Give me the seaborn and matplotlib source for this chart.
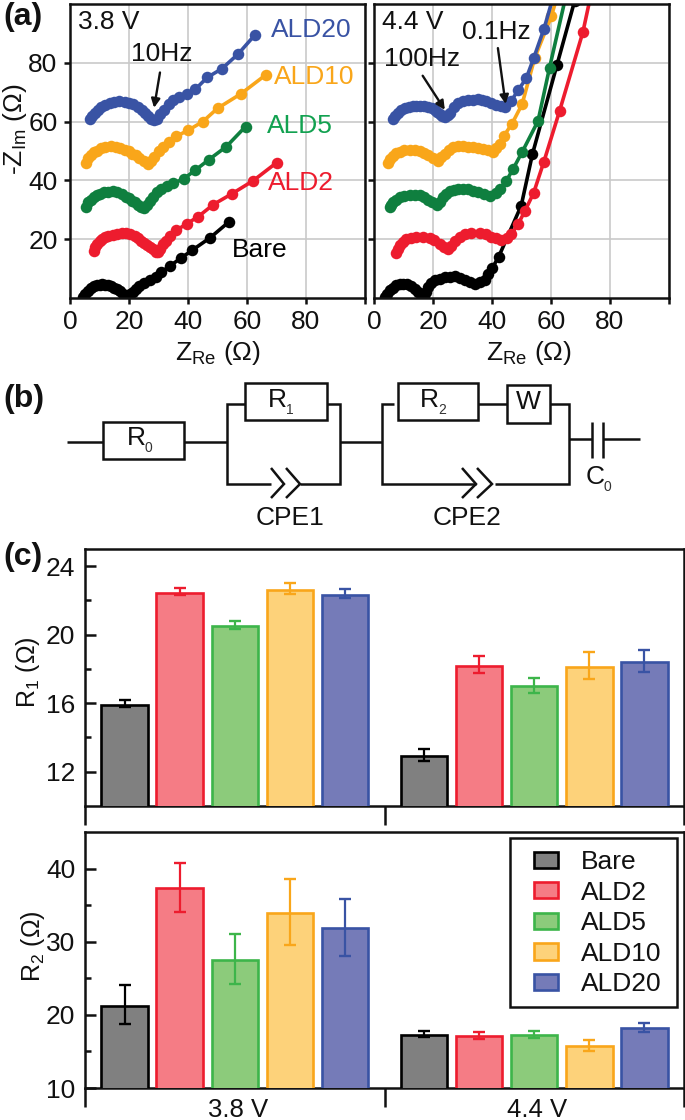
import matplotlib
matplotlib.use("Agg")
import matplotlib.pyplot as plt
from matplotlib.patches import Rectangle
from matplotlib.ticker import FixedLocator
import pandas as pd
import seaborn as sns

W, H = 685, 1120
samples = ["Bare", "ALD2", "ALD5", "ALD10", "ALD20"]
voltages = ["3.8 V", "4.4 V"]
line_colors = ["#000000", "#ED1C2E", "#0F7F3F", "#F9A61A", "#3953A4"]
edge_colors = ["#000000", "#ED1C2E", "#3DB54A", "#F9A61A", "#3953A4"]
fill_colors = ["#808080", "#F57C85", "#8CCB7B", "#FDD27A", "#757BB8"]
text_colors = ["#000000", "#ED1C2E", "#12A150", "#F9A61A", "#3953A4"]

# Nyquist data, 3.8 V
bare38_x = [4.5,5.2,6,7,8,9,10,11,12,13,14,15,16,17,18,19,19.7,20.5,21.5,22.5,23.5,25,27,29,31,34,37.5,41.5,47.5,54]
bare38_y = [0.5,1.5,2.5,3.3,4,4.3,4.5,4.6,4.5,4.3,4,3.5,3,2.3,1.5,0.8,0.3,1.2,2.2,3.2,4,5,6.2,7.2,8.8,11,13.5,16.3,20.5,26]
ald2_38_x = [8,8.5,9.3,10,11,12,13,14.5,16,17.5,19,20.5,22,23,24,25,26,27,28,29,29.7,30.5,31.5,32.5,34,36,39.5,43.5,48.6,54.8,62.1,70]
ald2_38_y = [16,17.5,18.5,19.3,20,20.6,21,21.5,21.8,22,22,21.6,21,20.3,19.5,18.8,18,17.3,16.5,15.7,15.5,16.8,18.2,19.5,21,23,25.2,27.7,31.8,35.4,39.9,46]
ald5_38_x = [5.5,6,7,8,9,10,11.5,13,14.5,16,17.5,19,20,21,22,23,24,25,26,27,28,29.5,31,33,35,38.5,42.5,47,53,59.5]
ald5_38_y = [31,32.5,33.5,34.5,35,35.5,36,36.2,36.3,36,35.5,34.5,34,33,32.5,31.5,31,30.5,31.5,33,34.5,36,37,38,39,40.5,43.5,47,51.5,58.3]
ald10_38_x = [5.3,6,7,8,9,10.5,12,14,15.5,17,18.5,20,21,22.5,23.5,25,26.5,27.5,28.5,30,31.5,33.5,36,40,45,50,58,66.5]
ald10_38_y = [46,47.5,48.5,49.5,50,51,51.3,51.6,51.5,51,50.5,50,49,48.5,47.5,46.5,45.5,46.5,48,50,51.5,53,55,57,60,64.5,69.5,76]
ald20_38_x = [6.8,7.5,8.5,9.5,10.5,12,13.5,15,16.5,18.5,20,21.5,23,24.5,25.5,26.5,27.5,28.5,29.5,30.5,32,33.5,35,37,39.5,42.5,46.5,51.5,57,62.7]
ald20_38_y = [61,62,63,64,65,65.7,66.3,66.7,66.9,66.8,66.4,66,65,64,63,62,61,60.5,61,62.5,64,66,67.5,68.5,69.5,71,75,78,83,89.5]

# Nyquist data, 4.4 V
bare44_x = [3.6,4.4,5.3,6.4,7.6,8.7,9.8,11.2,12.7,13.8,14.9,15.8,16.8,17.5,18.3,19.4,20.6,22.3,24,25.6,27.3,29,30.7,32.4,34.1,35.8,37.5,38.8,40.1,42.3,49.9,53.7,62,68]
bare44_y = [0.3,1.5,2.6,3.5,4.3,4.7,4.9,4.6,4,3,2,1.2,0.3,2,3.7,5,6,6.6,7.1,7.3,7.5,6.8,6,5.4,4.9,5.3,6.2,8,10.2,14.1,31.4,48.9,79.2,101]
ald2_44_x = [7.6,8,8.7,9.7,11,12.6,14.4,16.6,18.9,20.5,22.3,23.7,25.1,26,27.3,29,30.7,33,35.8,37.8,39.8,41.5,43.2,45,46.6,48.8,51.1,54.1,57.6,62.9,70.8,73.5]
ald2_44_y = [15.4,16.6,17.9,19,19.9,20.4,20.7,20.8,20.5,19.6,18.4,17.5,16.7,17.8,19.5,20.8,21.8,22,22.1,21.6,20.9,20.3,19.8,20.5,21.8,25,29.5,35.7,46.4,63.6,90.4,103]
ald5_44_x = [5.3,5.8,6.4,7.4,8.7,10.3,12.1,13.8,15.5,17,18.3,19.8,21.4,22.3,23.4,24.4,25.6,27,28.5,30.2,31.9,33.6,35.3,37.2,39.2,41.2,42.8,44.9,47.1,50.3,55.6,59.5,65.8]
ald5_44_y = [30.8,31.7,32.5,33.4,34.2,34.7,35,35,35,34.2,33.3,32.5,31.6,32.8,34.2,35.3,36.3,36.7,37,37,37,36.5,35.9,35.3,34.8,35.6,37,39.9,43.8,49.8,60.2,78.3,106]
ald10_44_x = [4.7,5.5,6.4,7.5,8.7,10.3,12.1,13.8,15.5,17,18.3,20,21.7,22.8,24,25.3,26.7,28.4,30.2,31.9,33.6,35.3,37,38.7,40.3,41.5,42.6,44,46.8,50.2,54.5,60.1,64]
ald10_44_y = [45.9,47.2,48.4,49.2,49.8,50.2,50.4,50.3,50,49.3,48.6,47.6,46.7,47.8,49,50.2,51.2,51.6,51.8,51.5,51.2,50.9,50.6,50.2,49.8,51,52.3,55.1,59.3,65.9,81.7,95.8,109]
ald20_44_x = [6.4,7.2,8,9.2,10.4,11.8,13.2,14.4,15.5,17,18.3,19.5,20.6,21.4,22.3,23.2,24.2,25,25.6,27,28.5,30.2,31.9,33.6,35.3,36.7,38,39.8,41.5,43,44.3,46.5,48.8,51.6,54.1,57.6,61.2]
ald20_44_y = [60.8,62,63,63.9,64.5,65,65.3,65.4,65.3,65.2,65,64.5,63.8,63.2,62.7,62,61.6,62.2,63,64.8,66.4,67,67.3,67.5,67.6,67.4,67,66.3,65.6,65.2,65,67,70.6,74.7,81.5,91.5,104]

x_38 = [bare38_x, ald2_38_x, ald5_38_x, ald10_38_x, ald20_38_x]
y_38 = [bare38_y, ald2_38_y, ald5_38_y, ald10_38_y, ald20_38_y]
x_44 = [bare44_x, ald2_44_x, ald5_44_x, ald10_44_x, ald20_44_x]
y_44 = [bare44_y, ald2_44_y, ald5_44_y, ald10_44_y, ald20_44_y]

# Fitted resistances: [3.8 V values], [4.4 V values]
r1_38 = [15.9, 22.45, 20.5, 22.6, 22.3]
r1_44 = [12.9, 18.2, 17.0, 18.13, 18.4]
r1_38_hi = [16.2, 22.75, 20.8, 23.0, 22.65]
r1_44_hi = [13.35, 18.77, 17.5, 19.0, 19.1]
r1_38_lo = [15.75, 22.3, 20.35, 22.35, 22.15]
r1_44_lo = [12.6, 17.75, 16.6, 17.4, 17.8]
r2_38 = [21.2, 37.3, 27.5, 33.9, 31.9]
r2_44 = [17.3, 17.1, 17.3, 15.7, 18.2]
r2_38_hi = [24.1, 40.8, 31.1, 38.6, 35.9]
r2_44_hi = [17.8, 17.7, 17.8, 16.5, 18.9]
r2_38_lo = [18.8, 34.1, 24.2, 29.5, 28.1]
r2_44_lo = [17.0, 16.7, 16.9, 15.1, 17.7]

sns.set_theme(style="white")
plt.rcParams["font.family"] = ["Liberation Sans", "DejaVu Sans"]
plt.rcParams["mathtext.fontset"] = "custom"
plt.rcParams["mathtext.rm"] = "Liberation Sans"
plt.rcParams["text.color"] = "#111111"
plt.rcParams["axes.labelcolor"] = "#111111"
FS = 19
SPINE = 1.8

fig = plt.figure(figsize=(W / 100, H / 100), dpi=100, facecolor="white")


def axes_px(left, top, right, bottom):
    return fig.add_axes([left / W, 1 - bottom / H, (right - left) / W, (bottom - top) / H])


def nyquist(ax, xs, ys):
    frames = [pd.DataFrame({"x": a, "y": b, "s": s}) for a, b, s in zip(xs, ys, samples)]
    df = pd.concat(frames, ignore_index=True)
    sns.lineplot(data=df, x="x", y="y", hue="s", hue_order=samples, palette=line_colors,
                 estimator=None, sort=False, marker="o", markersize=8.3, markeredgewidth=0,
                 linewidth=2.6, legend=False, ax=ax)
    ax.set_xlim(0, 100)
    ax.set_ylim(0, 100)
    ax.set_xticks([0, 20, 40, 60, 80, 100], ["0", "20", "40", "60", "80", ""])
    ax.set_yticks([20, 40, 60, 80])
    ax.set_xlabel("")
    ax.set_ylabel("")
    ax.grid(True, color="#c9c9c9", lw=1.2)
    ax.set_axisbelow(True)
    ax.tick_params(axis="both", direction="out", length=4, width=SPINE, labelsize=FS, pad=5,
                   bottom=True, left=True, colors="#111111")
    for sp in ax.spines.values():
        sp.set_linewidth(SPINE)
        sp.set_color("#111111")
        sp.set_visible(True)


axL = axes_px(70, 4, 365, 298)
nyquist(axL, x_38, y_38)
axR = axes_px(374, 4, 669, 298)
nyquist(axR, x_44, y_44)
axR.set_yticklabels([])
axL.set_ylabel(r"-Z$_{\mathrm{Im}}$ (Ω)", fontsize=FS)
axL.yaxis.set_label_coords(-0.14, 0.575)
for ax, cx in ((axL, 0.50), (axR, 0.525)):
    ax.set_xlabel(r"Z$_{\mathrm{Re}}$ (Ω)", fontsize=FS)
    ax.xaxis.set_label_coords(cx, -0.187)
    ax.xaxis.label.set_verticalalignment("center")

axL.text(2.8, 94, voltages[0], fontsize=FS, va="center")
axR.text(2.7, 94, voltages[1], fontsize=FS, va="center")
label_pos = {"ALD20": (68, 91), "ALD10": (69, 75.3), "ALD5": (66.7, 58.4), "ALD2": (67, 39), "Bare": (55, 16.3)}
for s, c in zip(samples, text_colors):
    axL.text(*label_pos[s], s, color=c, fontsize=FS, va="center")

arrow = dict(arrowstyle="-|>", color="#111111", lw=1.7, mutation_scale=13, shrinkA=0, shrinkB=0)
axL.text(31, 83, "10Hz", fontsize=FS, ha="center", va="center")
axL.annotate("", xy=(28.5, 64.7), xytext=(30.5, 76.7), arrowprops=arrow)
axR.text(16.3, 81.2, "100Hz", fontsize=FS, ha="center", va="center")
axR.annotate("", xy=(24, 64), xytext=(16.5, 75.6), arrowprops=arrow)
axR.text(41.6, 90.6, "0.1Hz", fontsize=FS, ha="center", va="center")
axR.annotate("", xy=(44.6, 66), xytext=(42, 85), arrowprops=arrow)


def bars(ax, v38, v44, hi38, hi44, lo38, lo44, name, ylim, major, minor):
    df = pd.DataFrame({"voltage": [voltages[0]] * 5 + [voltages[1]] * 5,
                       "sample": samples * 2, name: v38 + v44})
    sns.barplot(data=df, x="voltage", y=name, hue="sample", hue_order=samples, palette=fill_colors,
                saturation=1, width=0.92, gap=0.16, errorbar=None, legend=False, ax=ax, zorder=2)
    bar_containers = list(ax.containers)
    for c, ec, grp_v, grp_hi, grp_lo in zip(bar_containers, edge_colors,
                                            zip(v38, v44), zip(hi38, hi44), zip(lo38, lo44)):
        for p, v, h, l in zip(c.patches, grp_v, grp_hi, grp_lo):
            p.set_edgecolor(ec)
            p.set_linewidth(1.9)
            xc = p.get_x() + p.get_width() / 2
            ax.errorbar([xc], [v], yerr=[[v - l], [h - v]], color=ec, elinewidth=1.6,
                        capsize=4.4, capthick=1.7, zorder=3)
    ax.set_xlim(-0.5, 1.5)
    ax.set_ylim(*ylim)
    ax.set_yticks(major)
    ax.yaxis.set_minor_locator(FixedLocator(minor))
    ax.set_xticks([-0.5, 0.5, 1.5], ["", "", ""])
    ax.set_xlabel("")
    ax.tick_params(axis="x", which="major", direction="out", length=14, width=SPINE, bottom=True, color="#111111")
    ax.tick_params(axis="y", which="major", direction="in", length=8, width=SPINE, left=True,
                   labelsize=FS, pad=7, color="#111111", labelcolor="#111111")
    ax.tick_params(axis="y", which="minor", direction="in", length=4, width=SPINE, left=True, color="#111111")
    for sp in ax.spines.values():
        sp.set_linewidth(SPINE)
        sp.set_color("#111111")
        sp.set_visible(True)
        sp.set_zorder(1)
    ax.set_ylabel(name, fontsize=FS - 1)
    return bar_containers


axC1 = axes_px(85, 549, 684, 806)
bars(axC1, r1_38, r1_44, r1_38_hi, r1_44_hi, r1_38_lo, r1_44_lo, r"R$_{\mathrm{1}}$ (Ω)",
     (10, 25), [12, 16, 20, 24], [14, 18, 22])
axC1.yaxis.set_label_coords(-0.072, 0.52)

axC2 = axes_px(85, 832, 684, 1088)
c2 = bars(axC2, r2_38, r2_44, r2_38_hi, r2_44_hi, r2_38_lo, r2_44_lo, r"R$_{\mathrm{2}}$ (Ω)",
          (10, 45), [10, 20, 30, 40], [15, 25, 35])
axC2.yaxis.set_label_coords(-0.064, 0.555)
axC2.set_xticks([0.012, 1.01], voltages, minor=True, fontsize=FS - 0.5)
axC2.tick_params(axis="x", which="minor", length=0, pad=7, labelcolor="#111111")

handles = [c.patches[0] for c in c2]
leg = axC2.legend(handles, samples, loc="upper left",
                  bbox_to_anchor=((534 - 85) / 599, 1 - (850 - 832) / 256), borderaxespad=0,
                  fontsize=FS, frameon=False, handlelength=0.91, handleheight=0.57,
                  handletextpad=0.87, labelspacing=0.25, borderpad=0)
leg.set_zorder(5)

# Overlay in pixel units: legend frame, circuit diagram (b) and panel letters
ov = fig.add_axes([0, 0, 1, 1], facecolor="none")
ov.set_xlim(0, W)
ov.set_ylim(H, 0)
ov.axis("off")
ov.add_patch(Rectangle((510, 838), 167, 169, fill=False, edgecolor="#111111", lw=SPINE))
CK = dict(color="#111111", lw=1.8, solid_capstyle="butt", solid_joinstyle="miter")
wires = [
    ([67, 103], [442, 442]), ([184, 227], [442, 442]),
    ([245, 227, 227, 271], [404, 404, 484, 484]),
    ([327, 340, 340, 300], [404, 404, 484, 484]),
    ([340, 382], [442, 442]),
    ([394, 382, 382, 476], [404, 404, 484, 484]),
    ([478, 507], [404, 404]),
    ([550, 569, 569, 495], [404, 404, 484, 484]),
    ([569, 592], [439, 439]), ([603, 640], [439, 439]),
    ([592, 592], [422, 458]), ([603, 603], [422, 458]),
    ([271, 284, 271], [468, 484, 498]), ([286, 300, 286], [468, 484, 498]),
    ([462, 476, 462], [468, 484, 498]), ([477, 492, 477], [468, 484, 498]),
]
for wx, wy in wires:
    ov.plot(wx, wy, **CK)
for x0, x1, y0, y1 in [(103, 184, 422, 459), (245, 327, 383, 420), (398, 478, 383, 420), (507, 550, 385, 423)]:
    ov.add_patch(Rectangle((x0, y0), x1 - x0, y1 - y0, fill=False, edgecolor="#111111", lw=1.8))
for x, y, s, sub in [(127, 438, "R", "0"), (268, 400, "R", "1"), (420, 400, "R", "2"), (586, 477, "C", "0")]:
    ov.text(x, y, s, fontsize=FS, ha="left", va="center")
    ov.text(x + 18, y + 10, sub, fontsize=10, ha="left", va="center", color="#333333")
ov.text(528, 402, "W", fontsize=FS, ha="center", va="center")
ov.text(290, 518, "CPE1", fontsize=FS, ha="center", va="center")
ov.text(467, 518, "CPE2", fontsize=FS, ha="center", va="center")
for s, x, y in [("(a)", 3, 17), ("(b)", 3, 399), ("(c)", 3, 557)]:
    ov.text(x, y, s, fontsize=23, fontweight="bold", ha="left", va="center")

fig.savefig("out.png", dpi=100)
